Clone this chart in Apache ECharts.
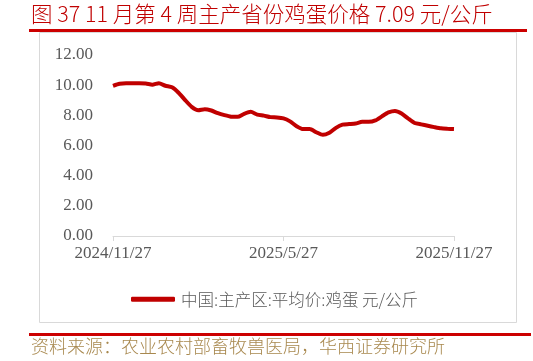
<!DOCTYPE html>
<html>
<head>
<meta charset="utf-8">
<script src="https://cdn.jsdelivr.net/npm/echarts@6/dist/echarts.min.js"></script>
<style>
html,body{margin:0;padding:0;background:#fff;}
#chart{width:533px;height:361px;}
</style>
</head>
<body>
<div id="chart"></div>
<script>
// weekly categories
var categories = [
  "2024/11/27","2024/12/4","2024/12/11","2024/12/18","2024/12/25",
  "2025/1/1","2025/1/8","2025/1/15","2025/1/22","2025/1/29",
  "2025/2/5","2025/2/12","2025/2/19","2025/2/26","2025/3/5",
  "2025/3/12","2025/3/19","2025/3/26","2025/4/2","2025/4/9",
  "2025/4/16","2025/4/23","2025/4/30","2025/5/7","2025/5/14",
  "2025/5/21","2025/5/27","2025/6/4","2025/6/11","2025/6/18",
  "2025/6/25","2025/7/2","2025/7/9","2025/7/16","2025/7/23",
  "2025/7/30","2025/8/6","2025/8/13","2025/8/20","2025/8/27",
  "2025/9/3","2025/9/10","2025/9/17","2025/9/24","2025/10/1",
  "2025/10/8","2025/10/15","2025/10/22","2025/10/29","2025/11/5",
  "2025/11/12","2025/11/19","2025/11/27"
];
// 中国:主产区:平均价:鸡蛋 元/公斤
var eggPrice = [
  9.96,10.10,10.12,10.12,10.12,10.11,10.03,10.13,9.96,9.86,
  9.50,9.01,8.56,8.34,8.41,8.32,8.14,8.01,7.91,7.90,
  8.10,8.23,8.05,7.98,7.88,7.86,7.80,7.60,7.28,7.09,
  7.09,6.88,6.71,6.85,7.17,7.38,7.42,7.46,7.57,7.57,
  7.66,7.93,8.19,8.29,8.12,7.79,7.49,7.40,7.31,7.22,
  7.14,7.11,7.09
];
var tickLabels = ["2024/11/27","2025/5/27","2025/11/27"];
var tickIndex = [0, 26, 52];
var yTicks = [0, 2, 4, 6, 8, 10, 12];

var seriesName = "中国:主产区:平均价:鸡蛋 元/公斤";
var titleText = "图 37 11 月第 4 周主产省份鸡蛋价格 7.09 元/公斤";
var sourceText = "资料来源：农业农村部畜牧兽医局，华西证券研究所";

var chart = echarts.init(document.getElementById('chart'), null, {renderer:'canvas'});
var cjk = '"Noto Sans CJK SC", sans-serif';
var serif = '"Liberation Serif", "DejaVu Serif", serif';

chart.setOption({
  animation: false,
  backgroundColor: '#ffffff',
  graphic: [
    {type:'text', left:31, top:3, style:{text:titleText, fill:'#c00000', font:'300 21.5px ' + cjk}},
    {type:'rect', shape:{x:29, y:29, width:498, height:3}, style:{fill:'#cc0000'}},
    {type:'rect', shape:{x:39.5, y:32.5, width:477, height:290}, style:{fill:'none', stroke:'#d9d9d9', lineWidth:1}},
    {type:'rect', shape:{x:29, y:333, width:502, height:3}, style:{fill:'#cc0000'}},
    {type:'text', left:31, top:337, style:{text:sourceText, fill:'#a8884e', font:'300 18px ' + cjk}}
  ],
  grid: {left:113, right:79, top:55, bottom:125, containLabel:false},
  legend: {
    left:126, top:286,
    icon:'roundRect', itemWidth:44, itemHeight:5, itemGap:10,
    textStyle:{color:'#595959', fontSize:16.5, fontWeight:300, fontFamily:cjk, padding:[0,0,0,1]},
    data:[seriesName]
  },
  xAxis: {
    type:'category',
    data: categories,
    boundaryGap:false,
    axisLine:{show:true, lineStyle:{color:'#d9d9d9', width:1}},
    axisTick:{show:true, length:5, lineStyle:{color:'#d9d9d9'},
      interval:function(i){ return tickIndex.indexOf(i) >= 0; }},
    axisLabel:{
      interval:function(i){ return tickIndex.indexOf(i) >= 0; },
      formatter:function(v, i){ var k = tickIndex.indexOf(i); return k >= 0 ? tickLabels[k] : ''; },
      color:'#595959', fontSize:17, fontFamily:serif, margin:9
    },
    splitLine:{show:false}
  },
  yAxis: {
    type:'value', min:yTicks[0], max:yTicks[yTicks.length-1], interval:2,
    axisLine:{show:false}, axisTick:{show:false}, splitLine:{show:false},
    axisLabel:{color:'#595959', fontSize:17, fontFamily:serif, margin:20,
      formatter:function(v){ return v.toFixed(2); }}
  },
  series: [{
    name: seriesName,
    type:'line',
    data: eggPrice,
    symbol:'none',
    smooth:0.2,
    lineStyle:{color:'#c00000', width:4},
    itemStyle:{color:'#c00000'}
  }]
});
</script>
</body>
</html>
